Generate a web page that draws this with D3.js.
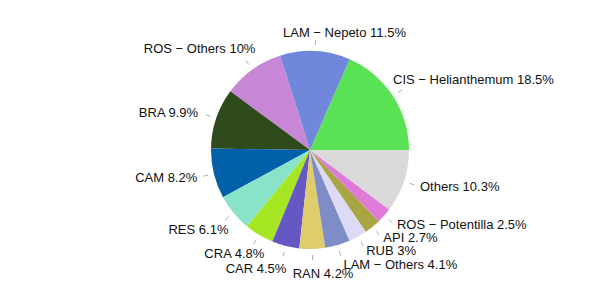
<!DOCTYPE html>
<html>
<head>
<meta charset="utf-8">
<script src="https://cdn.jsdelivr.net/npm/d3@7"></script>
<style>
  body { margin: 0; background: #fff; }
  text { font-family: "Liberation Sans", Arial, sans-serif; font-size: 13px; fill: #111; }
</style>
</head>
<body>
<svg id="pie" width="600" height="296"></svg>
<script>
// slices, counter-clockwise from 3 o'clock
let families = ['CIS \u2212 Helianthemum', 'LAM \u2212 Nepeto', 'ROS \u2212 Others', 'BRA', 'CAM', 'RES',
                'CRA', 'CAR', 'RAN', 'LAM \u2212 Others', 'RUB', 'API', 'ROS \u2212 Potentilla', 'Others'];
let shares = [18.5, 11.5, 10, 9.9, 8.2, 6.1, 4.8, 4.5, 4.2, 4.1, 3, 2.7, 2.5, 10.3];
let colors = ['#59e254', '#7088dc', '#c886d6', '#2f4b1b', '#0060a8', '#88e3c8', '#a7e623',
              '#6658c4', '#dfcc6a', '#7e8cc8', '#dddaf5', '#a8a642', '#e07ad8', '#d9d9d9'];

// small label nudges (label layout avoids overlaps in the original)
let nudge = [[-14,-7],[-33,-2],[13,-7],[-2,0],[0,0],[8,6],[14,4],[5,6],[-20,7],[1,3],[0,-1],[0,-2],[0,-2],[0,0]];

let svg = d3.select('#pie');
let cx = 310, cy = 150, radius = 99;
let g = svg.append('g').attr('transform', 'translate(' + cx + ',' + cy + ')');

let data = families.map(function(f, i) { return {name: f, value: shares[i], i: i}; });

let pie = d3.pie()
  .sort(null)
  .value(d => d.value)
  .startAngle(Math.PI / 2)
  .endAngle(Math.PI / 2 - 2 * Math.PI);

let arc = d3.arc().innerRadius(0).outerRadius(radius);

let slices = pie(data);

g.selectAll('path.slice')
  .data(slices)
  .enter().append('path')
  .attr('class', 'slice')
  .attr('d', arc)
  .attr('fill', d => colors[d.data.i]);

function mid(d) { return (d.startAngle + d.endAngle) / 2; }

// leader ticks
g.selectAll('line.tick')
  .data(slices)
  .enter().append('line')
  .attr('class', 'tick')
  .attr('x1', d => 105 * Math.sin(mid(d)))
  .attr('y1', d => -105 * Math.cos(mid(d)))
  .attr('x2', d => 110 * Math.sin(mid(d)))
  .attr('y2', d => -110 * Math.cos(mid(d)))
  .attr('stroke', '#9a9a9a')
  .attr('stroke-width', 0.8);

g.selectAll('text.label')
  .data(slices)
  .enter().append('text')
  .attr('class', 'label')
  .attr('x', d => 116 * Math.sin(mid(d)) + nudge[d.data.i][0])
  .attr('y', d => -116 * Math.cos(mid(d)) + nudge[d.data.i][1])
  .attr('dy', '0.35em')
  .attr('text-anchor', d => Math.sin(mid(d)) < 0 ? 'end' : 'start')
  .text(d => d.data.name + ' ' + d.data.value + '%');
</script>
</body>
</html>
